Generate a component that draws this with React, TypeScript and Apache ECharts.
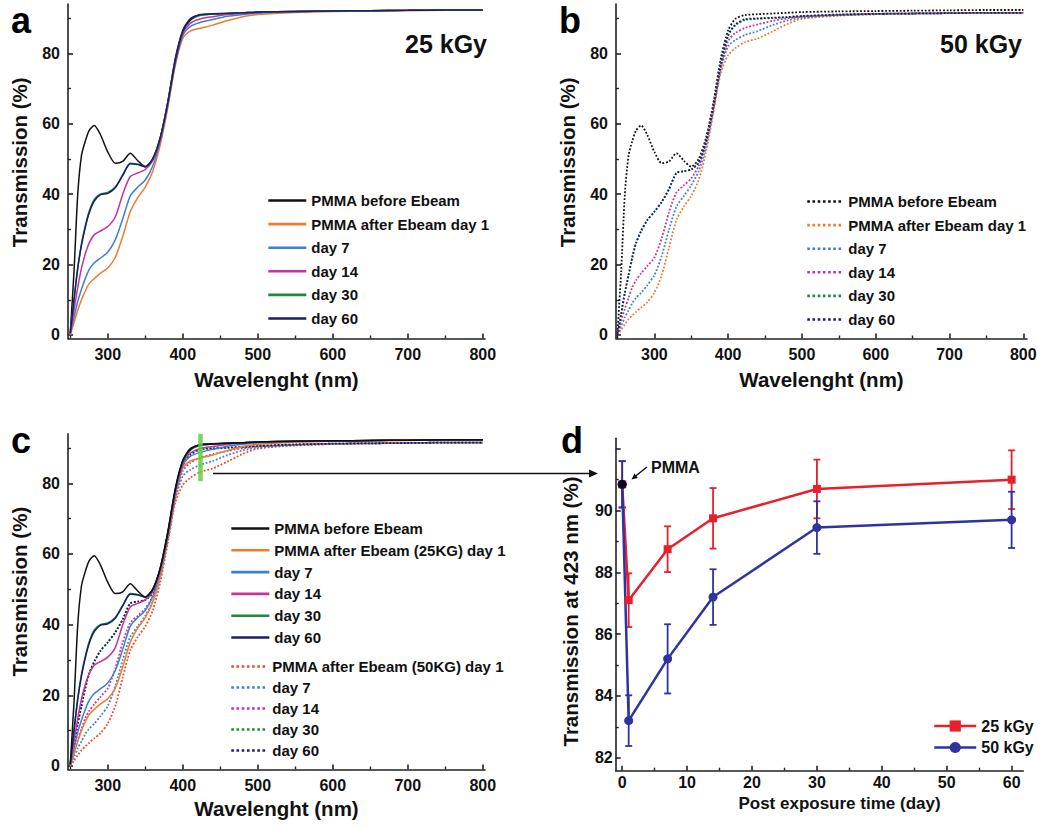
import React, { useEffect, useRef } from "react";
import * as echarts from "echarts";

const FONT = '"Liberation Sans", Arial, Helvetica, sans-serif';

// ---------- spectra (panels a, b, c) ----------
const WAVELENGTH = [250, 255, 260, 265, 270, 275, 282, 290, 300, 310, 320, 330, 340, 350, 360, 370, 380, 390, 400, 410, 423, 440, 460, 480, 500, 550, 600, 650, 700, 750, 800];

const PMMA_BEFORE = [0.5, 18, 40, 51, 55, 58, 59.5, 57, 52, 48.8, 49.3, 51.6, 49.5, 47.8, 50, 56, 66, 78.5, 86.5, 89.8, 90.85, 91.1, 91.3, 91.5, 91.7, 91.9, 92.0, 92.1, 92.2, 92.3, 92.3];

// 25 kGy
const DAY1_25 = [0, 3.5, 7, 10, 12.5, 14.5, 16, 17.5, 19, 22, 28, 35, 39, 42, 46.5, 54, 64.5, 76.5, 84.2, 86.3, 87.1, 88, 89.3, 90.4, 91, 91.6, 91.9, 92, 92.1, 92.2, 92.2];
const DAY7_25 = [0.2, 5, 9.5, 13, 16, 18.5, 20.5, 21.8, 23.5, 27, 33, 39.5, 42, 44, 48, 55, 65, 77, 85, 87.6, 88.75, 89.6, 90.5, 91, 91.4, 91.8, 92, 92.1, 92.2, 92.2, 92.3];
const DAY14_25 = [0.3, 7, 13.5, 19, 23, 26, 28.5, 29.5, 30.8, 33.5, 40, 45, 46, 47, 49.5, 55.5, 65.5, 77.5, 85.5, 88.5, 89.75, 90.4, 91, 91.3, 91.6, 91.9, 92, 92.1, 92.2, 92.3, 92.3];
const DAY30_25 = [0.5, 10, 19, 26, 31, 35, 38.5, 40, 40.5, 42, 45.5, 48.8, 48.5, 47.8, 50, 56, 66, 78, 86, 89.3, 90.7, 91.1, 91.3, 91.5, 91.7, 91.9, 92, 92.1, 92.2, 92.3, 92.3];
const DAY60_25 = [0.5, 10, 19, 25.5, 30.5, 34.5, 38, 39.8, 40.2, 41.8, 45.3, 48.6, 48.4, 47.8, 50, 56, 66, 78, 86.2, 89.5, 91.0, 91.2, 91.4, 91.5, 91.7, 91.9, 92, 92.1, 92.2, 92.3, 92.3];

// 50 kGy
const DAY1_50 = [0, 1.5, 3, 4.5, 5.5, 6.5, 7.8, 9.2, 12, 17, 25, 32.7, 36.5, 39.5, 44, 52, 63, 74.5, 79.5, 81.5, 83.2, 84.2, 86.2, 88.3, 89.8, 90.7, 91.1, 91.3, 91.4, 91.5, 91.5];
const DAY7_50 = [0, 2.5, 5, 7, 9, 10.5, 12, 14, 17, 22.5, 30, 36.5, 39.5, 42.5, 46.5, 53.5, 64, 75.5, 82, 83.8, 85.2, 86.3, 88, 89.3, 90.1, 90.8, 91.1, 91.3, 91.4, 91.5, 91.5];
const DAY14_50 = [0, 4, 7.5, 10.5, 13.5, 15.5, 17.5, 19.5, 22, 27.5, 35, 40.5, 42.5, 44.5, 48, 54.5, 64.5, 76, 83.5, 85.8, 87.2, 88.2, 89.2, 89.9, 90.4, 90.9, 91.2, 91.3, 91.4, 91.5, 91.5];
const DAY30_50 = [0, 6, 12, 17, 22, 26, 29.5, 32.5, 35, 37.8, 41.5, 46, 46.5, 47, 49, 55, 65, 77, 85, 88, 89.45, 89.8, 90, 90.2, 90.5, 90.9, 91.2, 91.3, 91.4, 91.5, 91.5];
const DAY60_50 = [0, 6, 12, 17, 22, 26, 29.5, 32.5, 35, 37.8, 41.5, 46, 46.5, 47, 49, 55, 65, 77, 85.2, 88.2, 89.7, 89.9, 90.1, 90.3, 90.6, 91, 91.2, 91.3, 91.4, 91.5, 91.5];

// ---------- panel d ----------
const DAYS = [0, 1, 7, 14, 30, 60];
const T423_25 = [90.85, 87.1, 88.75, 89.75, 90.7, 91.0];
const ERR_25 = [0.75, 0.87, 0.74, 0.98, 0.95, 0.95];
const T423_50 = [90.85, 83.2, 85.2, 87.2, 89.45, 89.7];
const ERR_50 = [0.75, 0.82, 1.12, 0.9, 0.85, 0.91];
const PMMA_POINT = [0, 90.85];
const MARK_WAVELENGTH = 423;
const MARK_RANGE = [80.6, 94];

// ---------- ticks ----------
const SPEC_X_MAJOR = [300, 400, 500, 600, 700, 800];
const SPEC_X_MINOR = [250, 350, 450, 550, 650, 750];
const SPEC_Y_MAJOR = [0, 20, 40, 60, 80];
const SPEC_Y_MINOR = [10, 30, 50, 70, 90];
const DAY_X_MAJOR = [0, 10, 20, 30, 40, 50, 60];
const DAY_X_MINOR = [5, 15, 25, 35, 45, 55];
const D_Y_MAJOR = [82, 84, 86, 88, 90, 92];
const D_Y_LABELS = [82, 84, 86, 88, 90];
const D_Y_MINOR = [83, 85, 87, 89, 91];

const C = {
  black: "#111111",
  orange: "#f07b2c",
  blue: "#3f7fd0",
  magenta: "#c4349c",
  green: "#1e8a3a",
  navy: "#1c1c6b",
  red50: "#ee4b2b",
  dRed: "#e8202a",
  dBlue: "#2e33a0",
};

const AXIS_COLOR = "#222";

function xAxes(gridIndex: number, min: number, max: number, major: number[], labels: number[], minor: number[], name: string, nameGap: number, nameStyle: any, labelSize: number, labelMargin: number) {
  return [
    {
      type: "value", gridIndex, min, max, position: "bottom",
      axisLine: { show: true, onZero: false, lineStyle: { color: AXIS_COLOR, width: 1.6 } },
      axisTick: { show: true, inside: true, length: 5, customValues: major, lineStyle: { color: AXIS_COLOR, width: 1.6 } },
      axisLabel: { show: true, customValues: labels, margin: labelMargin, color: "#111", fontSize: labelSize, fontWeight: "bold", fontFamily: FONT },
      splitLine: { show: false },
      name, nameLocation: "middle", nameGap,
      nameTextStyle: { color: "#111", fontWeight: "bold", fontFamily: FONT, ...nameStyle },
    },
    {
      type: "value", gridIndex, min, max, position: "bottom",
      axisLine: { show: false, onZero: false },
      axisTick: { show: true, inside: true, length: 3, customValues: minor, lineStyle: { color: AXIS_COLOR, width: 1.4 } },
      axisLabel: { show: false },
      splitLine: { show: false },
    },
  ];
}

function yAxes(gridIndex: number, min: number, max: number, major: number[], labels: number[], minor: number[], name: string, nameGap: number, nameStyle: any, labelSize: number, labelMargin: number) {
  return [
    {
      type: "value", gridIndex, min, max, position: "left",
      axisLine: { show: true, onZero: false, lineStyle: { color: AXIS_COLOR, width: 1.6 } },
      axisTick: { show: true, inside: true, length: 5, customValues: major, lineStyle: { color: AXIS_COLOR, width: 1.6 } },
      axisLabel: { show: true, customValues: labels, margin: labelMargin, color: "#111", fontSize: labelSize, fontWeight: "bold", fontFamily: FONT },
      splitLine: { show: false },
      name, nameLocation: "middle", nameGap,
      nameTextStyle: { color: "#111", fontWeight: "bold", fontFamily: FONT, ...nameStyle },
    },
    {
      type: "value", gridIndex, min, max, position: "left",
      axisLine: { show: false, onZero: false },
      axisTick: { show: true, inside: true, length: 3, customValues: minor, lineStyle: { color: AXIS_COLOR, width: 1.4 } },
      axisLabel: { show: false },
      splitLine: { show: false },
    },
  ];
}

function spectrum(name: string, values: number[], color: string, dotted: boolean, grid: number, extra: any = {}) {
  return {
    type: "line",
    name,
    xAxisIndex: grid * 2,
    yAxisIndex: grid * 2,
    data: WAVELENGTH.map((w, i) => [w, values[i]]),
    symbol: "none",
    smooth: 0.25,
    silent: true,
    lineStyle: { color, width: dotted ? 1.8 : 1.5, type: dotted ? "dotted" : "solid" },
    itemStyle: { color },
    ...extra,
  };
}

function errorBars(name: string, days: number[], vals: number[], errs: number[], color: string) {
  return {
    type: "custom",
    name,
    xAxisIndex: 6,
    yAxisIndex: 6,
    silent: true,
    data: days.map((d, i) => [d, vals[i] - errs[i], vals[i] + errs[i]]),
    encode: { x: 0, y: [1, 2] },
    renderItem: (params: any, api: any) => {
      const lo = api.coord([api.value(0), api.value(1)]);
      const hi = api.coord([api.value(0), api.value(2)]);
      const hw = 3.5;
      const style = { stroke: color, lineWidth: 1.8, fill: "none" };
      return {
        type: "group",
        children: [
          { type: "line", shape: { x1: lo[0], y1: lo[1], x2: hi[0], y2: hi[1] }, style },
          { type: "line", shape: { x1: lo[0] - hw, y1: lo[1], x2: lo[0] + hw, y2: lo[1] }, style },
          { type: "line", shape: { x1: hi[0] - hw, y1: hi[1], x2: hi[0] + hw, y2: hi[1] }, style },
        ],
      };
    },
  };
}

const stripName = (n: string) => n.slice(n.indexOf("|") + 1);

function legendBlock(names: string[], left: number, top: number, itemWidth: number, itemGap: number, fontSize: number, lineWidth: number, hideSymbol: boolean) {
  return {
    data: names,
    orient: "vertical",
    left, top,
    padding: 0,
    itemWidth,
    itemHeight: 14,
    itemGap,
    selectedMode: false,
    formatter: stripName,
    lineStyle: { width: lineWidth },
    ...(hideSymbol ? { itemStyle: { opacity: 0, borderWidth: 0 } } : {}),
    textStyle: { color: "#111", fontSize, fontWeight: "bold", fontFamily: FONT, lineHeight: 14 },
  };
}

export default function App() {
  const ref = useRef<HTMLDivElement>(null);

  useEffect(() => {
    if (!ref.current) return;
    const chart = echarts.init(ref.current, null, { renderer: "svg" });

    const A = ["a|PMMA before Ebeam", "a|PMMA after Ebeam day 1", "a|day 7", "a|day 14", "a|day 30", "a|day 60"];
    const B = ["b|PMMA before Ebeam", "b|PMMA after Ebeam day 1", "b|day 7", "b|day 14", "b|day 30", "b|day 60"];
    const CS = ["c|PMMA before Ebeam", "c|PMMA after Ebeam (25KG) day 1", "c|day 7", "c|day 14", "c|day 30", "c|day 60"];
    const CD = ["c2|PMMA after Ebeam (50KG) day 1", "c2|day 7", "c2|day 14", "c2|day 30", "c2|day 60"];
    const D = ["25 kGy", "50 kGy"];

    const specName = { fontSize: 20.5 };

    const option: any = {
      animation: false,
      grid: [
        { left: 68, top: 4, width: 417, height: 334.5, containLabel: false, outerBoundsMode: "none" },
        { left: 616, top: 4, width: 411, height: 334.5, containLabel: false, outerBoundsMode: "none" },
        { left: 68, top: 433.8, width: 417, height: 335.7, containLabel: false, outerBoundsMode: "none" },
        { left: 615.7, top: 438.3, width: 407.6, height: 332.4, containLabel: false, outerBoundsMode: "none" },
      ],
      xAxis: [
        ...xAxes(0, 247, 803, SPEC_X_MAJOR, SPEC_X_MAJOR, SPEC_X_MINOR, "Wavelenght (nm)", 30, specName, 16, 8),
        ...xAxes(1, 248, 805, SPEC_X_MAJOR, SPEC_X_MAJOR, SPEC_X_MINOR, "Wavelenght (nm)", 30, specName, 16, 8),
        ...xAxes(2, 247, 803, SPEC_X_MAJOR, SPEC_X_MAJOR, SPEC_X_MINOR, "Wavelenght (nm)", 28, specName, 16, 8),
        ...xAxes(3, -1, 61.8, DAY_X_MAJOR, DAY_X_MAJOR, DAY_X_MINOR, "Post exposure time (day)", 24, { fontSize: 17, padding: [0, 0, 0, 40] }, 16, 4),
      ],
      yAxis: [
        ...yAxes(0, -1, 94, SPEC_Y_MAJOR, SPEC_Y_MAJOR, SPEC_Y_MINOR, "Transmission (%)", 38.5, { fontSize: 20.5, padding: [0, 0, 0, 18] }, 16, 8),
        ...yAxes(1, -1, 94, SPEC_Y_MAJOR, SPEC_Y_MAJOR, SPEC_Y_MINOR, "Transmission (%)", 38, { fontSize: 20.5, padding: [0, 0, 0, 18] }, 16, 8),
        ...yAxes(2, -1, 94, SPEC_Y_MAJOR, SPEC_Y_MAJOR, SPEC_Y_MINOR, "Transmission (%)", 38.5, { fontSize: 20.5, padding: [0, 0, 0, 20] }, 16, 8),
        ...yAxes(3, 81.58, 92.34, D_Y_MAJOR, D_Y_LABELS, D_Y_MINOR, "Transmission at 423 nm (%)", 35, { fontSize: 20.5, padding: [0, 14, 0, 0] }, 16, 3),
      ],
      legend: [
        legendBlock(A, 267, 193, 38, 8.6, 15, 2.6, true),
        legendBlock(B, 806, 194, 36, 8.6, 15, 2.6, true),
        legendBlock(CS, 230, 521, 38, 6.8, 15, 2.6, true),
        legendBlock(CD, 230, 659, 36, 6, 15, 2.6, true),
        { ...legendBlock(D, 933, 718, 42, 5.5, 16, 2.5, false), formatter: (n: string) => n },
      ],
      series: [
        // panel a
        spectrum(A[0], PMMA_BEFORE, C.black, false, 0),
        spectrum(A[1], DAY1_25, C.orange, false, 0),
        spectrum(A[2], DAY7_25, C.blue, false, 0),
        spectrum(A[3], DAY14_25, C.magenta, false, 0),
        spectrum(A[4], DAY30_25, C.green, false, 0),
        spectrum(A[5], DAY60_25, C.navy, false, 0),
        // panel b
        spectrum(B[0], PMMA_BEFORE, C.black, true, 1),
        spectrum(B[1], DAY1_50, C.orange, true, 1),
        spectrum(B[2], DAY7_50, C.blue, true, 1),
        spectrum(B[3], DAY14_50, C.magenta, true, 1),
        spectrum(B[4], DAY30_50, C.green, true, 1),
        spectrum(B[5], DAY60_50, C.navy, true, 1),
        // panel c
        spectrum(CD[0], DAY1_50, C.red50, true, 2),
        spectrum(CD[1], DAY7_50, C.blue, true, 2),
        spectrum(CD[2], DAY14_50, C.magenta, true, 2),
        spectrum(CD[3], DAY30_50, C.green, true, 2),
        spectrum(CD[4], DAY60_50, C.navy, true, 2),
        spectrum(CS[1], DAY1_25, C.orange, false, 2),
        spectrum(CS[2], DAY7_25, C.blue, false, 2),
        spectrum(CS[3], DAY14_25, C.magenta, false, 2),
        spectrum(CS[4], DAY30_25, C.green, false, 2),
        spectrum(CS[5], DAY60_25, C.navy, false, 2),
        spectrum(CS[0], PMMA_BEFORE, C.black, false, 2, {
          markLine: {
            silent: true,
            symbol: ["none", "none"],
            label: { show: false },
            lineStyle: { color: "#5fcf3c", width: 4.5, type: "solid", opacity: 0.85 },
            data: [[{ coord: [MARK_WAVELENGTH, MARK_RANGE[0]] }, { coord: [MARK_WAVELENGTH, MARK_RANGE[1]] }]],
          },
        }),
        // panel d
        {
          type: "line", name: "25 kGy", xAxisIndex: 6, yAxisIndex: 6,
          data: DAYS.map((d, i) => [d, T423_25[i]]),
          symbol: "rect", symbolSize: 8, showAllSymbol: true,
          lineStyle: { color: C.dRed, width: 2.5 }, itemStyle: { color: C.dRed }, silent: true,
        },
        {
          type: "line", name: "50 kGy", xAxisIndex: 6, yAxisIndex: 6,
          data: DAYS.map((d, i) => [d, T423_50[i]]),
          symbol: "circle", symbolSize: 9, showAllSymbol: true,
          lineStyle: { color: C.dBlue, width: 2.5 }, itemStyle: { color: C.dBlue }, silent: true,
        },
        errorBars("err25", DAYS, T423_25, ERR_25, C.dRed),
        errorBars("err50", DAYS, T423_50, ERR_50, C.dBlue),
        {
          type: "scatter", name: "PMMA", xAxisIndex: 6, yAxisIndex: 6,
          data: [PMMA_POINT], symbol: "circle", symbolSize: 9,
          itemStyle: { color: "#000" }, silent: true, z: 5,
        },
      ],
      graphic: [
        { type: "text", x: 11, y: 20.5, style: { text: "a", fontSize: 36, fontWeight: "bold", fontFamily: FONT, fill: "#000", verticalAlign: "middle", align: "left" } },
        { type: "text", x: 559, y: 20.5, style: { text: "b", fontSize: 36, fontWeight: "bold", fontFamily: FONT, fill: "#000", verticalAlign: "middle", align: "left" } },
        { type: "text", x: 11, y: 440.5, style: { text: "c", fontSize: 36, fontWeight: "bold", fontFamily: FONT, fill: "#000", verticalAlign: "middle", align: "left" } },
        { type: "text", x: 561, y: 440.5, style: { text: "d", fontSize: 36, fontWeight: "bold", fontFamily: FONT, fill: "#000", verticalAlign: "middle", align: "left" } },
        { type: "text", x: 487, y: 44, style: { text: "25 kGy", fontSize: 25, fontWeight: "bold", fontFamily: FONT, fill: "#111", verticalAlign: "middle", align: "right" } },
        { type: "text", x: 1022, y: 44, style: { text: "50 kGy", fontSize: 25, fontWeight: "bold", fontFamily: FONT, fill: "#111", verticalAlign: "middle", align: "right" } },
        { type: "text", x: 651, y: 467, style: { text: "PMMA", fontSize: 16, fontWeight: "bold", fontFamily: FONT, fill: "#111", verticalAlign: "middle", align: "left" } },
        { type: "line", shape: { x1: 647, y1: 467, x2: 635, y2: 476.5 }, style: { stroke: "#111", lineWidth: 1.5 } },
        { type: "polygon", shape: { points: [[631.5, 479.5], [637.9, 477.9], [634.4, 473.6]] }, style: { fill: "#111" } },
        { type: "line", shape: { x1: 213, y1: 473.5, x2: 591, y2: 473.5 }, style: { stroke: "#111", lineWidth: 1.5 } },
        { type: "polygon", shape: { points: [[589, 469.5], [598, 473.5], [589, 477.5]] }, style: { fill: "#111" } },
      ],
    };

    chart.setOption(option);
    return () => chart.dispose();
  }, []);

  return (
    <div
      ref={ref}
      style={{ position: "fixed", left: 0, top: 0, width: 1050, height: 829, background: "#fff" }}
    />
  );
}
